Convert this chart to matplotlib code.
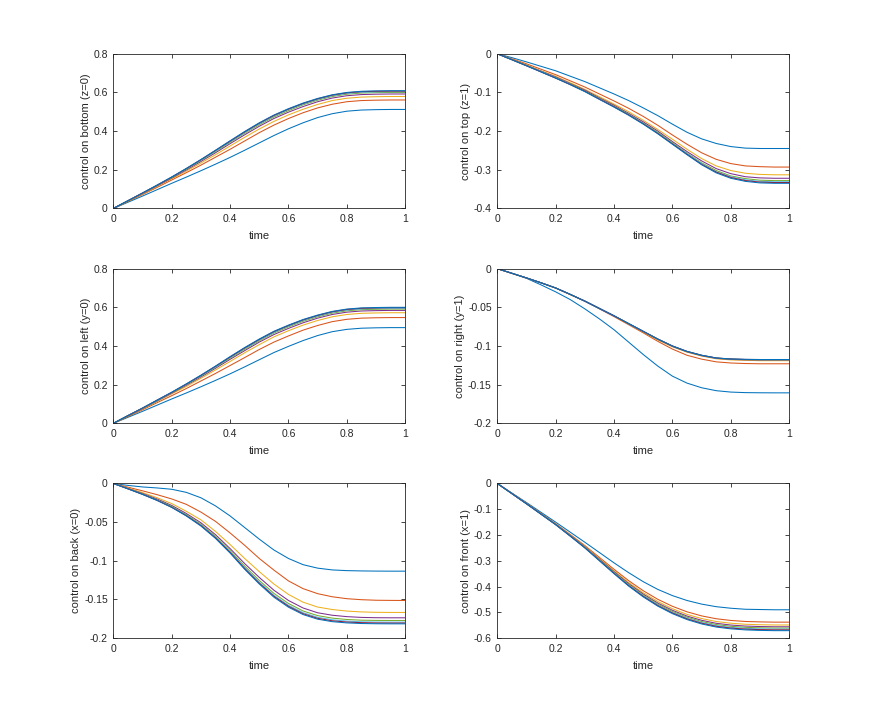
import numpy as np
import matplotlib
matplotlib.use('Agg')
import matplotlib.pyplot as plt
from matplotlib.ticker import FormatStrFormatter

# sample times
time = [0, .05, .1, .15, .2, .25, .3, .35, .4, .45, .5, .55, .6, .65, .7, .75, .8, .85, .9, .95, 1]

bottom_z0 = [
    [0, .032, .064, .097, .130, .162, .195, .229, .264, .301, .339, .377, .412, .443, .470, .490, .503, .509, .511, .512, .512],
    [0, .036, .072, .109, .147, .185, .224, .265, .306, .349, .392, .431, .465, .495, .520, .539, .552, .558, .560, .561, .561],
    [0, .038, .075, .114, .153, .193, .235, .278, .323, .368, .411, .450, .484, .513, .538, .558, .570, .576, .578, .579, .579],
    [0, .039, .077, .117, .157, .199, .243, .288, .335, .381, .425, .465, .498, .527, .552, .571, .583, .589, .591, .592, .592],
    [0, .039, .079, .119, .160, .203, .248, .294, .342, .389, .433, .473, .506, .536, .560, .579, .591, .597, .599, .600, .600],
    [0, .040, .079, .120, .161, .205, .250, .297, .345, .393, .438, .478, .511, .540, .564, .583, .595, .601, .603, .604, .604],
    [0, .040, .080, .120, .162, .206, .252, .300, .348, .396, .441, .481, .514, .543, .567, .586, .598, .604, .606, .607, .607],
    [0, .040, .080, .121, .163, .207, .253, .301, .350, .398, .443, .483, .516, .545, .569, .588, .600, .606, .608, .609, .609],
]

top_z1 = [
    [0, -.010, -.021, -.0325, -.044, -.058, -.072, -.088, -.104, -.121, -.140, -.160, -.182, -.203, -.220, -.232, -.240, -.244, -.245, -.245, -.245],
    [0, -.013, -.026, -.040, -.054, -.070, -.086, -.104, -.122, -.141, -.162, -.185, -.210, -.234, -.256, -.273, -.284, -.290, -.292, -.293, -.293],
    [0, -.014, -.029, -.044, -.058, -.075, -.092, -.111, -.130, -.150, -.172, -.196, -.221, -.247, -.271, -.290, -.302, -.309, -.312, -.313, -.313],
    [0, -.0147, -.030, -.045, -.060, -.077, -.094, -.114, -.133, -.154, -.176, -.200, -.227, -.253, -.277, -.297, -.310, -.318, -.321, -.322, -.322],
    [0, -.015, -.030, -.046, -.062, -.078, -.096, -.116, -.135, -.156, -.179, -.203, -.230, -.257, -.282, -.302, -.316, -.323, -.327, -.328, -.328],
    [0, -.0153, -.031, -.046, -.062, -.079, -.097, -.117, -.137, -.157, -.180, -.205, -.232, -.258, -.284, -.305, -.318, -.326, -.330, -.331, -.331],
    [0, -.0154, -.031, -.047, -.063, -.0795, -.097, -.1175, -.137, -.158, -.181, -.206, -.233, -.260, -.286, -.306, -.320, -.328, -.332, -.333, -.333],
    [0, -.0155, -.031, -.047, -.063, -.080, -.098, -.118, -.138, -.159, -.182, -.207, -.234, -.261, -.287, -.308, -.322, -.330, -.334, -.335, -.335],
]

left_y0 = [
    [0, .031, .062, .094, .126, .157, .189, .222, .256, .292, .329, .366, .398, .428, .454, .474, .486, .492, .494, .495, .495],
    [0, .035, .070, .107, .143, .180, .219, .258, .299, .340, .382, .420, .452, .482, .506, .526, .538, .544, .546, .547, .547],
    [0, .038, .074, .113, .152, .191, .233, .276, .320, .365, .407, .447, .479, .508, .532, .551, .563, .569, .571, .572, .572],
    [0, .039, .076, .116, .156, .197, .240, .285, .331, .376, .420, .459, .491, .520, .544, .563, .575, .581, .583, .584, .584],
    [0, .039, .078, .118, .158, .200, .244, .290, .337, .383, .427, .467, .499, .528, .551, .570, .582, .588, .590, .591, .591],
    [0, .040, .078, .119, .159, .202, .246, .292, .341, .387, .431, .471, .503, .532, .555, .574, .586, .592, .594, .595, .595],
    [0, .040, .079, .120, .160, .203, .248, .295, .343, .390, .434, .474, .506, .535, .558, .577, .589, .595, .597, .598, .598],
    [0, .040, .079, .120, .161, .204, .249, .296, .345, .392, .436, .476, .508, .537, .560, .579, .591, .597, .599, .600, .600],
]

right_y1 = [
    [0, -.006, -.0125, -.021, -.030, -.040, -.052, -.065, -.079, -.095, -.111, -.126, -.139, -.148, -.154, -.1578, -.1596, -.1603, -.1605, -.1606, -.1606],
    [0, -.006, -.012, -.0183, -.025, -.0335, -.042, -.052, -.062, -.0725, -.083, -.094, -.104, -.112, -.117, -.1205, -.122, -.1227, -.123, -.123, -.123],
    [0, -.006, -.012, -.0183, -.025, -.0333, -.042, -.0515, -.061, -.072, -.082, -.092, -.101, -.108, -.113, -.1165, -.118, -.1185, -.119, -.119, -.119],
    [0, -.006, -.012, -.0183, -.025, -.0333, -.042, -.0515, -.061, -.0715, -.0815, -.0915, -.1005, -.1075, -.1125, -.116, -.1174, -.1179, -.1182, -.1182, -.1182],
    [0, -.006, -.012, -.0183, -.025, -.0333, -.042, -.0515, -.061, -.071, -.0812, -.0912, -.1002, -.1072, -.1122, -.1157, -.1171, -.1176, -.1178, -.1178, -.1178],
    [0, -.006, -.012, -.0183, -.025, -.0333, -.042, -.0515, -.061, -.071, -.0811, -.0911, -.1001, -.1071, -.1121, -.1156, -.1169, -.1174, -.1176, -.1176, -.1176],
    [0, -.006, -.012, -.0183, -.025, -.0333, -.042, -.0515, -.061, -.071, -.081, -.091, -.100, -.107, -.112, -.1155, -.1168, -.1174, -.1175, -.1175, -.1175],
    [0, -.006, -.012, -.0183, -.025, -.0333, -.042, -.0515, -.061, -.071, -.081, -.091, -.100, -.107, -.112, -.1155, -.1168, -.1173, -.1175, -.1175, -.1175],
]

back_x0 = [
    [0, -.0025, -.0045, -.0058, -.0075, -.0115, -.0185, -.029, -.042, -.057, -.072, -.086, -.097, -.105, -.1095, -.1118, -.1127, -.1131, -.1133, -.1134, -.1134],
    [0, -.0048, -.0095, -.0145, -.020, -.027, -.037, -.049, -.064, -.080, -.097, -.112, -.126, -.136, -.1425, -.1465, -.149, -.1503, -.151, -.1512, -.1513],
    [0, -.0058, -.0118, -.0185, -.026, -.036, -.047, -.062, -.079, -.097, -.114, -.130, -.1435, -.1535, -.1598, -.163, -.165, -.1661, -.1666, -.1668, -.1668],
    [0, -.0064, -.0129, -.0201, -.0284, -.0388, -.0508, -.0662, -.0842, -.1036, -.1215, -.138, -.1513, -.161, -.1672, -.1704, -.1722, -.1732, -.1736, -.1737, -.1737],
    [0, -.0067, -.0135, -.021, -.0296, -.0403, -.0527, -.0684, -.0868, -.1069, -.1254, -.1421, -.1552, -.1649, -.1709, -.1741, -.1759, -.1768, -.1771, -.1772, -.1772],
    [0, -.0068, -.0138, -.0215, -.0303, -.0411, -.0538, -.0697, -.0884, -.1089, -.1276, -.1445, -.1575, -.1671, -.1731, -.1763, -.1780, -.1789, -.1792, -.1793, -.1793],
    [0, -.0069, -.0140, -.0218, -.0307, -.0416, -.0544, -.0704, -.0892, -.1100, -.1289, -.1458, -.1588, -.1684, -.1744, -.1776, -.1792, -.1800, -.1804, -.1805, -.1805],
    [0, -.0070, -.0142, -.0220, -.0310, -.0420, -.0550, -.0710, -.0900, -.1110, -.1300, -.1470, -.1600, -.1695, -.1755, -.1787, -.1803, -.1811, -.1814, -.1815, -.1815],
]

front_x1 = [
    [0, -.037, -.074, -.112, -.150, -.189, -.228, -.268, -.308, -.346, -.381, -.411, -.435, -.454, -.468, -.478, -.484, -.488, -.489, -.490, -.490],
    [0, -.0385, -.077, -.1164, -.156, -.1982, -.241, -.287, -.333, -.377, -.416, -.4495, -.4765, -.4979, -.5137, -.5248, -.5314, -.5354, -.537, -.538, -.538],
    [0, -.0388, -.0776, -.1175, -.1573, -.2003, -.244, -.2913, -.3386, -.3839, -.424, -.4583, -.486, -.5079, -.524, -.5355, -.5422, -.5462, -.548, -.549, -.549],
    [0, -.039, -.0781, -.1181, -.1582, -.2016, -.2459, -.2941, -.3422, -.3884, -.4291, -.464, -.492, -.5143, -.5308, -.5424, -.5492, -.5532, -.555, -.556, -.556],
    [0, -.0392, -.0784, -.1186, -.1588, -.2026, -.2473, -.2961, -.3448, -.3916, -.4327, -.468, -.4964, -.5189, -.5355, -.5473, -.5542, -.5582, -.560, -.561, -.561],
    [0, -.0393, -.0786, -.1189, -.1593, -.2034, -.2484, -.2976, -.3469, -.3942, -.4356, -.4712, -.4998, -.5225, -.5393, -.5512, -.5581, -.5621, -.564, -.565, -.565],
    [0, -.0394, -.0788, -.1192, -.1596, -.2039, -.2492, -.2988, -.3484, -.3961, -.4378, -.4736, -.5024, -.5253, -.5422, -.5541, -.5610, -.5650, -.567, -.568, -.568],
    [0, -.0395, -.079, -.1195, -.160, -.2045, -.250, -.300, -.350, -.398, -.440, -.476, -.505, -.528, -.545, -.557, -.564, -.568, -.570, -.571, -.571],
]

panels = [
    (bottom_z0, 'control on bottom (z=0)', (0, 0.8), [0, 0.2, 0.4, 0.6, 0.8]),
    (top_z1, 'control on top (z=1)', (-0.4, 0), [-0.4, -0.3, -0.2, -0.1, 0]),
    (left_y0, 'control on left (y=0)', (0, 0.8), [0, 0.2, 0.4, 0.6, 0.8]),
    (right_y1, 'control on right (y=1)', (-0.2, 0), [-0.2, -0.15, -0.1, -0.05, 0]),
    (back_x0, 'control on back (x=0)', (-0.2, 0), [-0.2, -0.15, -0.1, -0.05, 0]),
    (front_x1, 'control on front (x=1)', (-0.6, 0), [-0.6, -0.5, -0.4, -0.3, -0.2, -0.1, 0]),
]

# matlab default line colours
matlab_colors = ['#0072BD', '#D95319', '#EDB120', '#7E2F8E', '#77AC30', '#4DBEEE', '#A2142F']

plt.rcParams['font.family'] = ['Liberation Sans', 'DejaVu Sans']
plt.rcParams['axes.unicode_minus'] = False

fig = plt.figure(figsize=(8.72, 7.17), dpi=100)

lefts = [0.13, 0.5703]
bottoms = [0.7093, 0.4096, 0.11]
w, h = 0.3347, 0.2157
axcol = '#262626'

for k, (curves, ylab, ylim, yticks) in enumerate(panels):
    ax = fig.add_axes([lefts[k % 2], bottoms[k // 2], w, h])
    for i, c in enumerate(curves):
        ax.plot(time, c, color=matlab_colors[i % 7], lw=0.75)
    ax.set_xlim(0, 1)
    ax.set_ylim(*ylim)
    ax.set_xticks([0, 0.2, 0.4, 0.6, 0.8, 1])
    ax.set_yticks(yticks)
    ax.xaxis.set_major_formatter(FormatStrFormatter('%g'))
    ax.yaxis.set_major_formatter(FormatStrFormatter('%g'))
    ax.tick_params(direction='in', top=True, right=True, length=3, width=0.6,
                   labelsize=7.5, colors=axcol, pad=4)
    for s in ax.spines.values():
        s.set_color(axcol)
        s.set_linewidth(0.6)
    ax.set_xlabel('time', fontsize=8, color=axcol, labelpad=5)
    ax.set_ylabel(ylab, fontsize=8, color=axcol, labelpad=2)

plt.savefig('out.png', dpi=100)
